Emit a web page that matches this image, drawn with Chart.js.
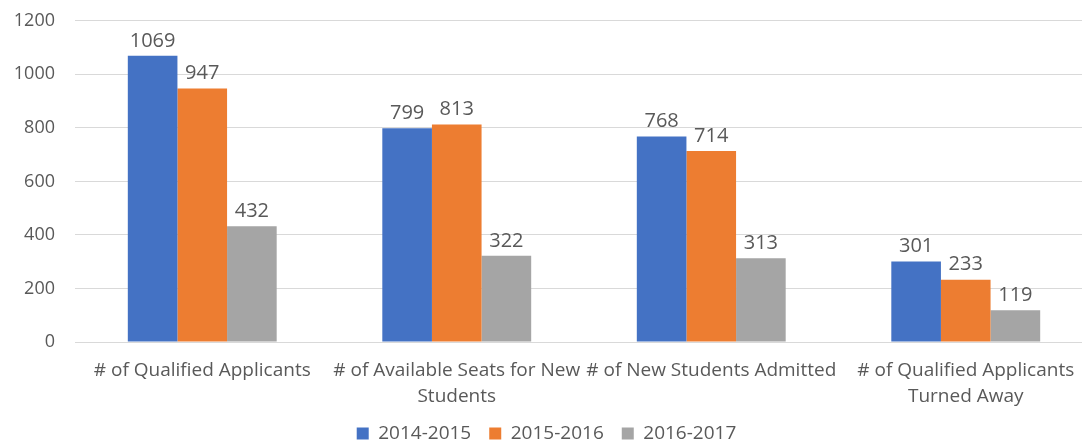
<!DOCTYPE html>
<html lang="en">
<head>
    <meta charset="UTF-8">
    <title>Applicants</title>
    <script src="https://cdn.jsdelivr.net/npm/chart.js"></script>
    <style>
        html, body { margin: 0; padding: 0; overflow: hidden; background: #fff; }
        #wrap { width: 1142px; height: 463px; margin-top: -10px; }
    </style>
</head>
<body>
    <div id="wrap">
        <canvas id="admitChart"></canvas>
    </div>

    <script>
        var categories = [
            '# of Qualified Applicants',
            ['# of Available Seats for New', 'Students'],
            '# of New Students Admitted',
            ['# of Qualified Applicants', 'Turned Away']
        ];
        var years = ['2014-2015', '2015-2016', '2016-2017'];
        var values1415 = [1069, 799, 768, 301];
        var values1516 = [947, 813, 714, 233];
        var values1617 = [432, 322, 313, 119];
        var yTicks = [0, 200, 400, 600, 800, 1000, 1200];

        var textGray = '#595959';
        var fontName = '"Open Sans", "Noto Sans", sans-serif';

        // draw the number above each bar
        var valueLabels = {
            id: 'valueLabels',
            afterDatasetsDraw: function(chart) {
                var ctx = chart.ctx;
                ctx.save();
                ctx.font = '20px ' + fontName;
                ctx.fillStyle = textGray;
                ctx.textAlign = 'center';
                ctx.textBaseline = 'bottom';
                chart.data.datasets.forEach(function(ds, i) {
                    chart.getDatasetMeta(i).data.forEach(function(bar, j) {
                        ctx.fillText(ds.data[j], bar.x, bar.y - 5);
                    });
                });
                ctx.restore();
            }
        };

        var ctx = document.getElementById('admitChart').getContext('2d');
        var chart = new Chart(ctx, {
            type: 'bar',
            data: {
                labels: categories,
                datasets: [
                    { label: years[0], data: values1415, backgroundColor: '#4472C4' },
                    { label: years[1], data: values1516, backgroundColor: '#ED7D31' },
                    { label: years[2], data: values1617, backgroundColor: '#A5A5A5' }
                ]
            },
            options: {
                responsive: true,
                maintainAspectRatio: false,
                animation: false,
                datasets: {
                    bar: { categoryPercentage: 0.585, barPercentage: 1.0 }
                },
                layout: {
                    padding: { top: 2, right: 49, left: 0, bottom: 0 }
                },
                plugins: {
                    tooltip: { enabled: false },
                    legend: {
                        position: 'bottom',
                        labels: {
                            boxWidth: 12,
                            boxHeight: 12,
                            padding: 18,
                            color: textGray,
                            font: { family: fontName, size: 19 }
                        }
                    }
                },
                scales: {
                    x: {
                        grid: { display: false, drawTicks: false },
                        border: { color: '#d9d9d9' },
                        afterFit: function(scale) { scale.height = 64; },
                        ticks: {
                            color: textGray,
                            padding: 16,
                            maxRotation: 0,
                            autoSkip: false,
                            font: { family: fontName, size: 19, lineHeight: 1.37 }
                        }
                    },
                    y: {
                        min: 0,
                        max: 1200,
                        afterBuildTicks: function(scale) {
                            scale.ticks = yTicks.map(function(v) { return { value: v }; });
                        },
                        afterFit: function(scale) { scale.width = 75; },
                        grid: { color: '#d9d9d9', drawTicks: false },
                        border: { display: false },
                        ticks: {
                            color: textGray,
                            padding: 20,
                            callback: function(v) { return String(v); },
                            font: { family: fontName, size: 18 }
                        }
                    }
                }
            },
            plugins: [valueLabels]
        });
    </script>
</body>
</html>
